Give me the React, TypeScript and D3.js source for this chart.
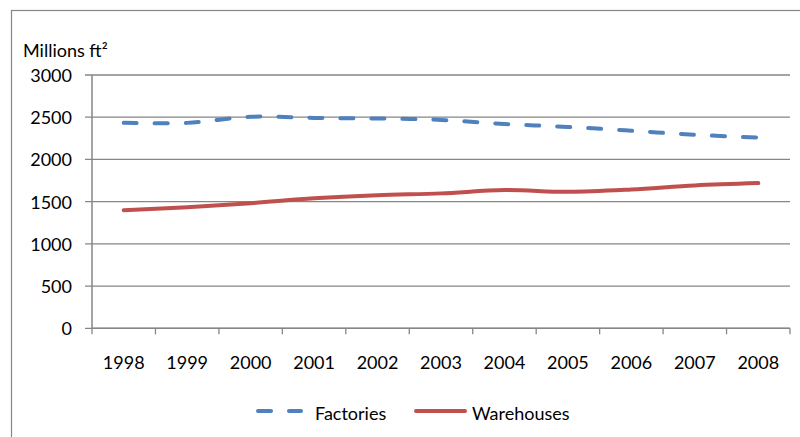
import React from "react";
import * as d3 from "d3";

const years = ["1998","1999","2000","2001","2002","2003","2004","2005","2006","2007","2008"];
const factories = [2433, 2433, 2505, 2492, 2485, 2468, 2420, 2385, 2340, 2292, 2260];
const warehouses = [1398, 1433, 1482, 1540, 1577, 1598, 1637, 1616, 1644, 1692, 1720];
const yTicks = [0, 500, 1000, 1500, 2000, 2500, 3000];
const seriesNames = ["Factories", "Warehouses"];
const colors = ["#4F81BD", "#C0504D"];

const W = 800, H = 437;
const left = 92, right = 790, top = 75, bottom = 328.3;
const font = "Lato, 'Open Sans', sans-serif";
const fs = 18;

export default function App() {
  const x = d3.scaleBand<string>().domain(years).range([left, right]).padding(0);
  const y = d3.scaleLinear().domain([0, 3000]).range([bottom, top]);
  const line = d3.line<number>()
    .x((_, i) => (x(years[i]) as number) + x.bandwidth() / 2)
    .y(d => y(d))
    .curve(d3.curveCatmullRom.alpha(0.5));
  const grid = "#868686";
  const tickXs = years.map(yr => x(yr) as number).concat([right]);
  return (
    <svg width={W} height={H} style={{ position: "absolute", left: 0, top: 0, background: "#fff" }}>
      <rect x={11.5} y={10.5} width={W} height={H} fill="#fff" stroke={grid} strokeWidth={1.2} />
      {yTicks.map(t => (
        <g key={t}>
          <line x1={85} x2={right} y1={y(t)} y2={y(t)} stroke={grid} strokeWidth={1.3} />
          <text x={72} y={y(t)} textAnchor="end" dominantBaseline="central" fontFamily={font} fontSize={fs} fill="#000">{t}</text>
        </g>
      ))}
      <line x1={left} x2={left} y1={top} y2={bottom} stroke={grid} strokeWidth={1.5} />
      <line x1={left} x2={right} y1={bottom} y2={bottom} stroke={grid} strokeWidth={1.5} />
      {tickXs.map((tx, i) => (
        <line key={i} x1={tx} x2={tx} y1={bottom} y2={bottom + 6} stroke={grid} strokeWidth={1.3} />
      ))}
      {years.map(yr => (
        <text key={yr} x={(x(yr) as number) + x.bandwidth() / 2} y={362} textAnchor="middle" dominantBaseline="central" fontFamily={font} fontSize={fs} fill="#000">{yr}</text>
      ))}
      <text x={23} y={57} fontFamily={font} fontSize={fs} fill="#000">Millions ft²</text>
      <path d={line(warehouses) || ""} fill="none" stroke={colors[1]} strokeWidth={4} strokeLinecap="round" />
      <path d={line(factories) || ""} fill="none" stroke={colors[0]} strokeWidth={4} strokeLinecap="round" strokeDasharray="13 18" />
      <g>
        <line x1={258} x2={301} y1={411} y2={411} stroke={colors[0]} strokeWidth={4} strokeLinecap="round" strokeDasharray="13 18" />
        <text x={315} y={413} dominantBaseline="central" fontFamily={font} fontSize={fs} fill="#000">{seriesNames[0]}</text>
        <line x1={416} x2={465} y1={411} y2={411} stroke={colors[1]} strokeWidth={4} strokeLinecap="round" />
        <text x={472} y={413} dominantBaseline="central" fontFamily={font} fontSize={fs} fill="#000">{seriesNames[1]}</text>
      </g>
    </svg>
  );
}
